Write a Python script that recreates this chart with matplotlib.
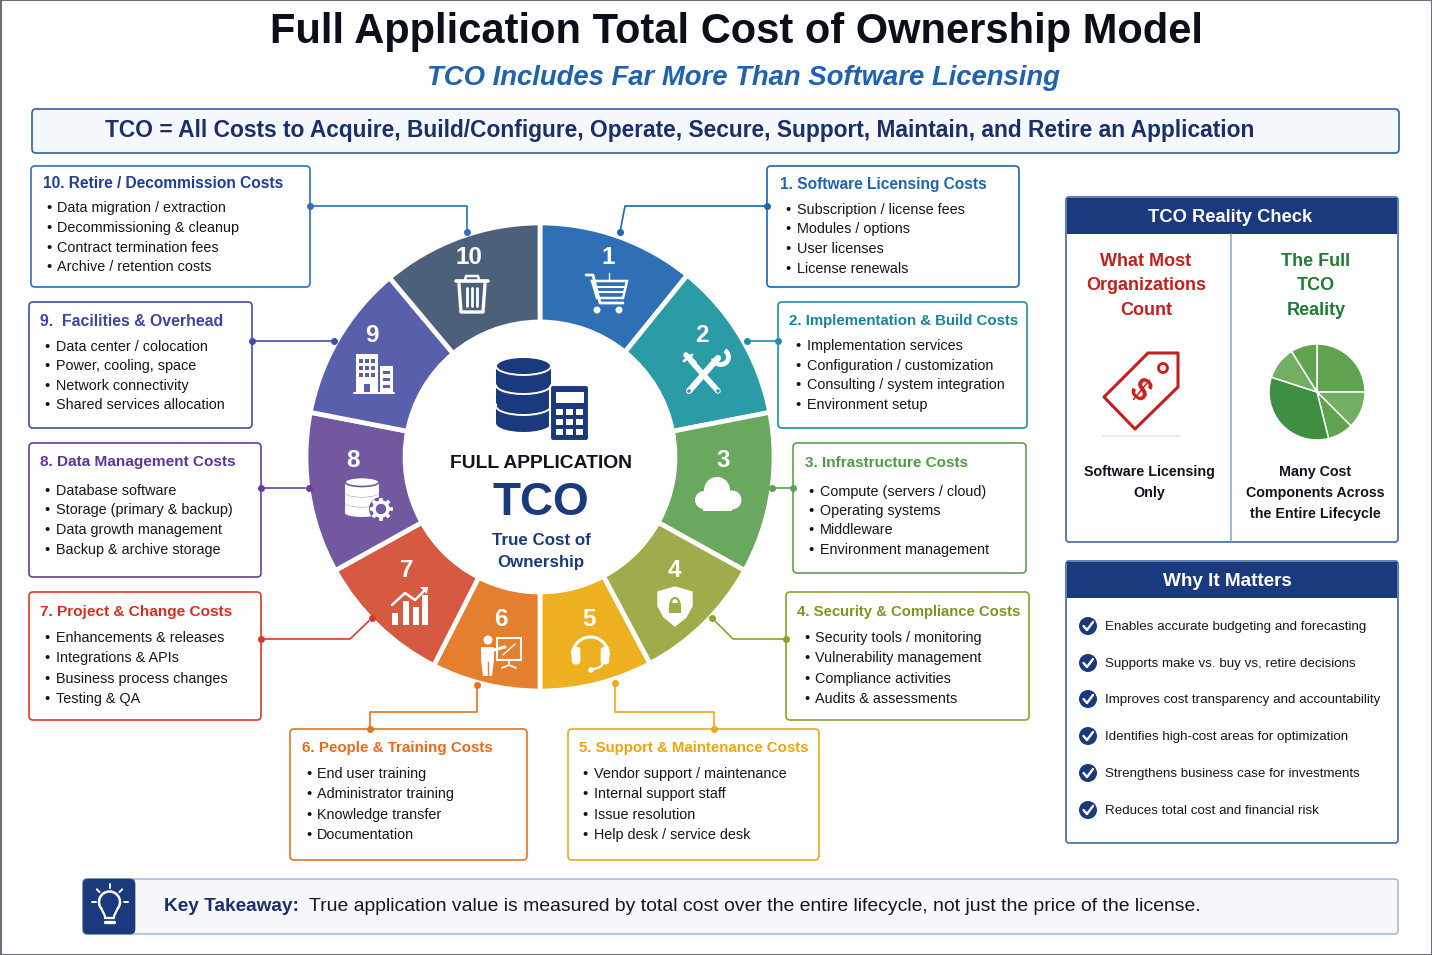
import matplotlib
matplotlib.use("Agg")
import matplotlib.pyplot as plt
import numpy as np
from matplotlib.patches import FancyBboxPatch, Rectangle, Circle, Polygon, Ellipse, Arc

plt.rcParams['font.family'] = ['Liberation Sans', 'DejaVu Sans']

W, H = 1432, 955
NAVY = '#1B3A7D'
DARK = '#14203A'

# ---- data ----
title = "Full Application Total Cost of Ownership Model"
subtitle = "TCO Includes Far More Than Software Licensing"
banner = "TCO = All Costs to Acquire, Build/Configure, Operate, Secure, Support, Maintain, and Retire an Application"

wedge_sizes = [39, 40, 40, 33, 28, 27, 34, 40, 39, 40]
wedge_colors = ['#2E6FB5', '#2B9BA6', '#69A85E', '#A0AC4C', '#ECB021',
                '#E47F30', '#D65A41', '#72589F', '#5A5FAB', '#4D6079']
wedge_numbers = ['1', '2', '3', '4', '5', '6', '7', '8', '9', '10']
number_pos = [(608, 255), (702, 333), (723, 458), (674, 568), (589, 617),
              (501, 617), (407, 568), (353, 458), (372, 333), (469, 255)]

box_titles = ["1. Software Licensing Costs", "2. Implementation & Build Costs", "3. Infrastructure Costs",
              "4. Security & Compliance Costs", "5. Support & Maintenance Costs", "6. People & Training Costs",
              "7. Project & Change Costs", "8. Data Management Costs", "9.  Facilities & Overhead",
              "10. Retire / Decommission Costs"]
box_items = [
    ["Subscription / license fees", "Modules / options", "User licenses", "License renewals"],
    ["Implementation services", "Configuration / customization", "Consulting / system integration", "Environment setup"],
    ["Compute (servers / cloud)", "Operating systems", "Middleware", "Environment management"],
    ["Security tools / monitoring", "Vulnerability management", "Compliance activities", "Audits & assessments"],
    ["Vendor support / maintenance", "Internal support staff", "Issue resolution", "Help desk / service desk"],
    ["End user training", "Administrator training", "Knowledge transfer", "Documentation"],
    ["Enhancements & releases", "Integrations & APIs", "Business process changes", "Testing & QA"],
    ["Database software", "Storage (primary & backup)", "Data growth management", "Backup & archive storage"],
    ["Data center / colocation", "Power, cooling, space", "Network connectivity", "Shared services allocation"],
    ["Data migration / extraction", "Decommissioning & cleanup", "Contract termination fees", "Archive / retention costs"],
]
box_edges = ['#1F66B0', '#1E8FA5', '#5FA04E', '#8FA02F', '#EFA818', '#E8731E', '#D93A2B', '#6A3D9A', '#3F4FA8', '#2F6FB5']
box_title_colors = ['#1F66B0', '#17839A', '#4E9A45', '#7F9420', '#EFA30F', '#E8691A', '#D62F22', '#5E3596', '#3A46A0', '#1E3F94']
box_title_sizes = [11.2, 10.8, 11.0, 10.75, 10.85, 10.9, 11.1, 11.1, 11.4, 11.2]
box_rects = [(767, 166, 1019, 287), (778, 302, 1027, 428), (793, 443, 1026, 573), (786, 592, 1029, 720),
             (568, 729, 819, 860), (290, 729, 527, 860), (29, 592, 261, 720), (29, 443, 261, 577),
             (29, 302, 252, 428), (31, 166, 310, 287)]
title_xy = [(780, 183), (789, 320), (805, 462), (797, 611), (579, 747), (302, 747), (40, 611), (40, 461), (40, 320), (43, 183)]
bullet_x = [787, 797, 810, 806, 584, 308, 46, 46, 46, 48]
item_x = [797, 807, 820, 815, 594, 317, 56, 56, 56, 57]
item_y = [[209, 228, 248, 268], [345, 365, 384, 404], [491, 510, 529, 549], [637, 657, 678, 698],
          [773, 793, 814, 834], [773, 793, 814, 834], [637, 657, 678, 698], [490, 509, 529, 549],
          [346, 365, 385, 404], [207, 227, 247, 266]]
connectors = [
    [(767, 206), (625, 206), (620, 232)],
    [(778, 341), (747, 341)],
    [(793, 488), (772, 488)],
    [(786, 639), (733, 639), (712, 618)],
    [(714, 729), (714, 712), (615, 712), (615, 683)],
    [(370, 729), (370, 712), (477, 712), (477, 685)],
    [(261, 639), (350, 639), (372, 618)],
    [(261, 488), (309, 488)],
    [(252, 341), (334, 341)],
    [(310, 206), (467, 206), (467, 232)],
]

reality_left = ["What Most", "Organizations", "Count"]
reality_right = ["The Full", "TCO", "Reality"]
reality_left_note = ["Software Licensing", "Only"]
reality_right_note = ["Many Cost", "Components Across", "the Entire Lifecycle"]
mini_sizes = [90, 45, 31, 122, 40, 32]
mini_colors = ['#5FA350', '#74AE62', '#5FA350', '#3F8F42', '#74AE62', '#5FA350']

why_items = ["Enables accurate budgeting and forecasting", "Supports make vs. buy vs, retire decisions",
             "Improves cost transparency and accountability", "Identifies high-cost areas for optimization",
             "Strengthens business case for investments", "Reduces total cost and financial risk"]
why_y = [626, 663, 699, 736, 773, 810]

# ---- canvas ----
fig = plt.figure(figsize=(W / 100, H / 100), dpi=100)
ax = fig.add_axes([0, 0, 1, 1])


def T(x, y, s, size, color=DARK, weight='normal', ha='left', **kw):
    return ax.text(x, y + 2, s, fontsize=size, color=color, fontweight=weight, ha=ha, va='center', zorder=6, **kw)


def rbox(x0, y0, x1, y1, ec, fc='white', lw=1.2, r=4, z=2):
    ax.add_patch(FancyBboxPatch((x0, y0), x1 - x0, y1 - y0, boxstyle=f"round,pad=0,rounding_size={r}",
                                ec=ec, fc=fc, lw=lw, zorder=z))


def L(xs, ys, c='white', lw=2, z=5, **kw):
    ax.plot(xs, ys, color=c, lw=lw, zorder=z, solid_capstyle=kw.pop('cap', 'round'), **kw)


def C(x, y, r, fc='white', ec='none', lw=0, z=5):
    ax.add_patch(Circle((x, y), r, fc=fc, ec=ec, lw=lw, zorder=z))


def R(x0, y0, x1, y1, fc='white', ec='none', lw=0, z=5):
    ax.add_patch(Rectangle((x0, y0), x1 - x0, y1 - y0, fc=fc, ec=ec, lw=lw, zorder=z))


# main ring (y axis is reversed below, so angles are mirrored)
wedges, _ = ax.pie(wedge_sizes, colors=wedge_colors, startangle=-90, counterclock=True, center=(540, 457), radius=234,
                   wedgeprops=dict(width=99, edgecolor='white', linewidth=3.4))
for w in wedges:
    w.set_zorder(3)
# mini pie
mini, _ = ax.pie(mini_sizes, colors=mini_colors, startangle=-90, counterclock=True, center=(1317, 392), radius=48,
                 wedgeprops=dict(edgecolor='white', linewidth=1.1))
for w in mini:
    w.set_zorder(4)

ax.set_xlim(0, W)
ax.set_ylim(H, 0)
ax.set_aspect('auto')
ax.axis('off')

ax.add_patch(Rectangle((0.5, 0.5), W - 1, H - 1, fc='none', ec='#6A6F78', lw=1.5, zorder=10))

# header
T(737, 30, title, 30, color='#0B0F1A', weight='bold', ha='center')
T(743, 76, subtitle, 19.8, color='#1F62B0', weight='bold', ha='center', style='italic')
rbox(32, 109, 1399, 153, '#2B62A8', fc='#F5F8FD')
T(680, 129, banner, 16.4, color='#1B2F6B', weight='bold', ha='center')

# cost boxes
for i in range(10):
    x0, y0, x1, y1 = box_rects[i]
    rbox(x0, y0, x1, y1, box_edges[i])
    T(title_xy[i][0], title_xy[i][1] - 1, box_titles[i], box_title_sizes[i], color=box_title_colors[i], weight='bold')
    for txt, y in zip(box_items[i], item_y[i]):
        T(bullet_x[i] + 1, y - 1, "•", 10.5, color='#111', ha='center')
        T(item_x[i], y - 1, txt, 10.35, color='#15171E')
    pts = connectors[i]
    xs, ys = zip(*pts)
    L(xs, ys, c=box_edges[i], lw=1.2, z=2)
    ax.plot([xs[0], xs[-1]], [ys[0], ys[-1]], 'o', color=box_edges[i], ms=4, zorder=5)

# ring numbers
for n, (x, y) in zip(wedge_numbers, number_pos):
    T(x, y, n, 17.5, color='white', weight='bold', ha='center')

# centre
CN = '#1B3A7D'
for yc in (417, 396, 377):
    R(496, yc - 10, 551, yc + 6, fc=CN)
    ax.add_patch(Ellipse((523.5, yc + 6), 55, 18, fc=CN, ec='none', zorder=5))
    ax.add_patch(Ellipse((523.5, yc - 11), 55, 18, fc=CN, ec='white', lw=1.4, zorder=5))
rbox(550, 385, 589, 441, 'white', fc=CN, lw=1.5, r=3, z=5)
R(556, 392, 584, 403)
for bx in (556, 566, 576):
    for by in (409, 419, 429):
        R(bx, by, bx + 7, by + 6)
T(540.5, 461, "FULL APPLICATION", 13.9, color='#10141F', weight='bold', ha='center')
T(540.5, 501, "TCO", 33, color=CN, weight='bold', ha='center')
T(541, 538, "True Cost of", 12.2, color=CN, weight='bold', ha='center')
T(541, 560, "Ownership", 12.2, color=CN, weight='bold', ha='center')

# ---- ring icons ----
# 1 cart
L([586, 593, 600, 623], [275, 275, 303, 303], lw=2)
ax.add_patch(Polygon([(592, 281), (627, 281), (623, 298), (597, 298)], closed=True, fc='none', ec='white', lw=1.8, zorder=5))
L([594, 626], [287, 287], lw=1.5); L([595, 624], [292, 292], lw=1.5)
C(597, 310, 3.5); C(619, 310, 3.5)
L([609, 609], [273, 280], lw=1)
# 2 tools
L([689, 718], [391, 358], lw=4.5); L([718, 691], [391, 361], lw=4)
ax.add_patch(Arc((721, 357), 15, 15, theta1=-60, theta2=170, color='white', lw=3.5, zorder=5))
L([686, 694], [355, 363], lw=4)
L([684, 692], [361, 355], lw=2)
C(689, 391, 1.8, fc='#2B9BA6', z=6); C(718, 391, 1.8, fc='#2B9BA6', z=6)
# 3 cloud
C(717, 490, 13); C(704, 500, 9); C(732, 500, 9.5)
R(703, 498, 732, 511)
# 4 shield + lock
th = np.array([[658, 592], [675, 587], [692, 592], [692, 606], [686, 617], [675, 626], [664, 617], [658, 606]])
ax.add_patch(Polygon(th, closed=True, fc='white', ec='white', lw=1, joinstyle='round', zorder=5))
R(669, 603, 681, 613, fc='#A0AC4C', z=6)
ax.add_patch(Arc((675, 603), 8, 10, theta1=180, theta2=360, color='#A0AC4C', lw=1.6, zorder=6))
# 5 headset
ax.add_patch(Arc((590.5, 655), 36, 36, theta1=180, theta2=360, color='white', lw=2.2, zorder=5))
rbox(572, 647, 580, 664, 'white', fc='white', lw=0.5, r=3, z=5)
rbox(601, 647, 609, 664, 'white', fc='white', lw=0.5, r=3, z=5)
ax.add_patch(Arc((592, 662), 22, 14, theta1=0, theta2=90, color='white', lw=1.6, zorder=5))
C(591, 670, 2.8)
# 6 teacher
C(488, 640, 4.5)
ax.add_patch(Polygon([(481, 647), (494, 647), (494, 660), (492, 676), (483, 676), (481, 660)], closed=True, fc='white', zorder=5))
L([490, 505], [651, 647], lw=2.2)
L([487.5, 487.5], [662, 676], c='#E47F30', lw=1, z=6)
R(497, 638, 521, 660, fc='none', ec='white', lw=1.5)
L([503, 515], [655, 644], lw=1)
L([509, 509, 502], [660, 665, 668], lw=1.2); L([509, 516], [665, 668], lw=1.2)
# 7 growth chart
for x0, x1, top in [(392, 398, 613), (403, 409, 601), (413, 419, 607), (422, 428, 595)]:
    R(x0, top, x1, 625)
L([392, 405, 415, 426], [605, 593, 600, 589], lw=1.8)
ax.add_patch(Polygon([(428, 587), (420, 587), (427, 594)], closed=True, fc='white', zorder=5))
# 8 db + gear
for yc in (505, 495, 485):
    R(345, yc - 3, 379, yc + 8, fc='white')
    ax.add_patch(Ellipse((362, yc + 8), 34, 8, fc='white', zorder=5))
    ax.add_patch(Ellipse((362, yc - 3), 34, 9, fc='white', ec='#72589F', lw=1.2, zorder=5))
C(381, 509, 12, fc='#72589F', z=5)
C(381, 509, 7, fc='#72589F', ec='white', lw=2.5, z=6)
for a in np.arange(0, 360, 45):
    ca, sa = np.cos(np.radians(a)), np.sin(np.radians(a))
    L([381 + 8 * ca, 381 + 11.5 * ca], [509 + 8 * sa, 509 + 11.5 * sa], lw=2.6, z=6, cap='butt')
# 9 building
R(356, 354, 378, 392)
R(380, 366, 393, 392)
L([354, 394], [392.5, 392.5], lw=1.4)
for bx in (359, 365, 371):
    for by in (359, 366, 373):
        R(bx, by, bx + 4, by + 4, fc='#5A5FAB', z=6)
R(364, 384, 370, 392, fc='#5A5FAB', z=6)
for by in (371, 378, 385):
    R(383, by, 390, by + 3, fc='#5A5FAB', z=6)
# 10 trash
L([456, 488], [281, 281], lw=2.6)
L([465, 466, 478, 479], [280, 276, 276, 280], lw=1.8)
L([459, 461, 483, 485], [284, 312, 312, 284], lw=2.4)
for x in (467, 472, 477):
    L([x, x], [288, 306], lw=2)

# ---- reality check panel ----
rbox(1066, 197, 1398, 542, '#3E68A8', lw=1.2, r=3)
R(1067, 198, 1397, 234, fc=NAVY, z=3)
T(1230, 215, "TCO Reality Check", 13.2, color='white', weight='bold', ha='center')
L([1231, 1231], [234, 541], c='#8AA3C7', lw=1.1, z=3)
for s, y in zip(reality_left, (259, 283, 308)):
    T(1146, y, s, 13, color='#C2201E', weight='bold', ha='center')
for s, y in zip(reality_right, (259, 283, 308)):
    T(1316, y, s, 13, color='#1F7A35', weight='bold', ha='center')
for s, y in zip(reality_left_note, (470, 491)):
    T(1149, y, s, 10.25, color='#10141F', weight='bold', ha='center')
for s, y in zip(reality_right_note, (470, 491, 512)):
    T(1315, y, s, 10.25, color='#10141F', weight='bold', ha='center')
ax.add_patch(Polygon([(1104, 397), (1135, 429), (1178, 387), (1178, 353), (1148, 353)], closed=True, fc='white',
                     ec='#C2201E', lw=2.2, joinstyle='round', zorder=4))
C(1163, 368, 4.5, fc='white', ec='#C2201E', lw=2)
T(1139, 389, "$", 22, color='#C2201E', weight='bold', ha='center', rotation=-40)
L([1102, 1180], [436, 436], c='#E3E5EA', lw=1.2)

# ---- why it matters panel ----
rbox(1066, 561, 1398, 843, '#3E68A8', lw=1.2, r=3)
R(1067, 562, 1397, 598, fc=NAVY, z=3)
T(1227, 579, "Why It Matters", 13.6, color='white', weight='bold', ha='center')
for s, y in zip(why_items, why_y):
    C(1088, y, 9, fc=NAVY)
    L([1083.5, 1087, 1093], [y, y + 4, y - 4], lw=1.7, z=6)
    T(1105, y - 1, s, 9.65, color='#15171E')

# ---- key takeaway ----
rbox(83, 879, 1398, 934, '#A9BCD9', fc='#F6F8FC', lw=1.2, r=3)
rbox(83, 879, 135, 934, NAVY, fc=NAVY, lw=0.5, r=5, z=3)
ax.add_patch(Arc((109.5, 902), 21, 21, theta1=135, theta2=45, color='white', lw=1.8, zorder=5))
L([102, 105, 105], [910, 916, 918], lw=1.6); L([117, 114, 114], [910, 916, 918], lw=1.6)
L([105, 114], [918, 918], lw=1.6); L([105, 114], [922, 922], lw=2.4)
for a in (-90, -45, -135, 0, 180):
    ca, sa = np.cos(np.radians(a)), np.sin(np.radians(a))
    L([109.5 + 14 * ca, 109.5 + 18 * ca], [902 + 14 * sa, 902 + 18 * sa], lw=1.4)
T(164, 904, "Key Takeaway:", 13.7, color='#1B2F6B', weight='bold')
T(309, 904, "True application value is measured by total cost over the entire lifecycle, not just the price of the license.",
  13.95, color='#15171E')

fig.savefig("out.png", dpi=100, facecolor='white')
